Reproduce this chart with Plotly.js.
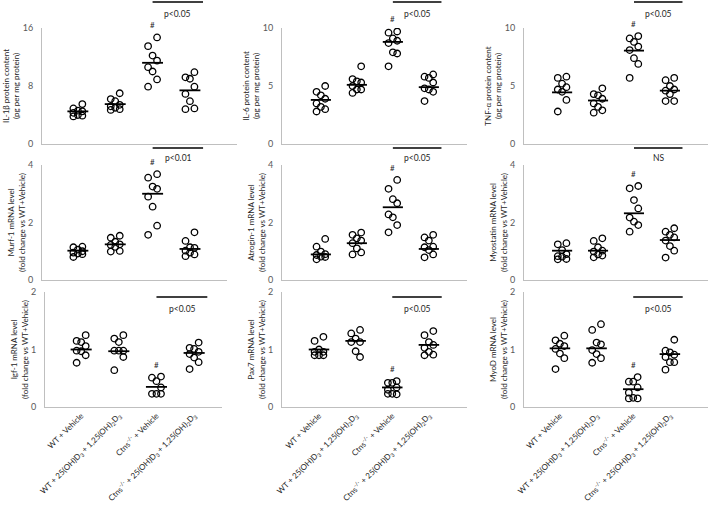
<!DOCTYPE html>
<html>
<head>
<meta charset="utf-8">
<script src="https://cdn.plot.ly/plotly-3.0.1.min.js"></script>
<style>
html, body { margin: 0; padding: 0; background: #fff; }
#plot { width: 709px; height: 508px; }
</style>
</head>
<body>
<div id="plot"></div>
<script>
// group labels (bottom row only)
var groups = [
  'WT + Vehicle',
  'WT + 25(OH)D<sub>3</sub> + 1,25(OH)<sub>2</sub>D<sub>3</sub>',
  'Ctns<sup>-/-</sup> + Vehicle',
  'Ctns<sup>-/-</sup> + 25(OH)D<sub>3</sub> + 1,25(OH)<sub>2</sub>D<sub>3</sub>'
];

// values, one list per group
var il1b = [[5.5, 4.9, 4.6, 4.5, 4.3, 4.0, 3.9, 3.8],
            [7.0, 6.2, 5.9, 5.4, 5.2, 5.0, 4.8, 4.7],
            [14.7, 13.5, 12.2, 11.5, 10.6, 10.0, 8.9, 7.9],
            [9.9, 9.2, 9.0, 7.9, 6.9, 5.9, 4.9, 4.8]];
var il6 = [[5.0, 4.5, 4.2, 3.9, 3.5, 3.2, 3.0, 2.8],
           [6.7, 5.6, 5.4, 5.3, 5.0, 4.7, 4.7, 4.4],
           [9.7, 9.6, 9.1, 8.9, 8.7, 7.9, 7.8, 6.7],
           [6.0, 5.8, 5.7, 5.3, 4.8, 4.7, 4.5, 3.7]];
var tnfa = [[5.8, 5.7, 5.2, 4.9, 4.7, 4.5, 3.8, 2.8],
            [4.8, 4.3, 4.2, 3.9, 3.5, 3.2, 2.9, 2.7],
            [9.3, 9.1, 8.8, 8.4, 8.1, 7.4, 6.9, 5.7],
            [5.7, 5.5, 5.0, 4.7, 4.6, 4.3, 3.7, 3.7]];
var murf1 = [[1.16, 1.14, 1.06, 1.0, 0.95, 0.92, 0.90, 0.80],
             [1.54, 1.47, 1.33, 1.24, 1.22, 1.15, 1.01, 0.99],
             [3.68, 3.56, 3.25, 3.17, 2.90, 2.55, 1.89, 1.57],
             [1.66, 1.36, 1.14, 1.12, 1.02, 0.95, 0.89, 0.83]];
var atrogin1 = [[1.43, 1.16, 0.99, 0.90, 0.87, 0.81, 0.80, 0.72],
                [1.65, 1.57, 1.45, 1.37, 1.28, 1.10, 0.96, 0.89],
                [3.48, 3.17, 2.81, 2.67, 2.28, 2.18, 1.91, 1.66],
                [1.57, 1.48, 1.37, 1.16, 1.14, 1.04, 0.89, 0.79]];
var myostatin = [[1.28, 1.24, 1.04, 0.90, 0.83, 0.81, 0.73, 0.72],
                 [1.45, 1.36, 1.14, 1.02, 0.99, 0.89, 0.85, 0.79],
                 [3.27, 3.19, 2.78, 2.49, 2.17, 2.03, 1.91, 1.68],
                 [1.80, 1.68, 1.57, 1.48, 1.37, 1.18, 1.02, 0.78]];
var igf1 = [[1.25, 1.15, 1.13, 1.06, 0.98, 0.97, 0.90, 0.77],
            [1.25, 1.19, 1.13, 0.98, 0.98, 0.98, 0.87, 0.64],
            [0.53, 0.51, 0.45, 0.34, 0.23, 0.23, 0.23],
            [1.12, 1.03, 1.01, 0.96, 0.92, 0.86, 0.78, 0.66]];
var pax7 = [[1.22, 1.15, 1.00, 0.96, 0.96, 0.90, 0.90, 0.90],
            [1.34, 1.28, 1.19, 1.13, 1.13, 0.97, 0.87],
            [0.45, 0.42, 0.42, 0.34, 0.30, 0.23, 0.22, 0.23],
            [1.32, 1.25, 1.13, 1.08, 1.03, 0.96, 0.91, 0.90]];
var myod = [[1.24, 1.16, 1.10, 1.06, 1.01, 0.93, 0.85, 0.66],
            [1.44, 1.34, 1.12, 1.09, 0.99, 0.92, 0.85, 0.77],
            [0.52, 0.44, 0.44, 0.34, 0.25, 0.16, 0.15, 0.15],
            [1.17, 0.98, 0.95, 0.91, 0.87, 0.78, 0.78, 0.65]];

// group means as drawn
var il1bMean = [4.5, 5.5, 11.2, 7.4];
var il6Mean = [3.8, 5.1, 8.8, 4.9];
var tnfaMean = [4.45, 3.75, 8.05, 4.6];
var murf1Mean = [1.02, 1.24, 3.0, 1.08];
var atrogin1Mean = [0.89, 1.28, 2.53, 1.08];
var myostatinMean = [1.02, 1.02, 2.32, 1.39];
var igf1Mean = [1.0, 0.97, 0.35, 0.94];
var pax7Mean = [1.0, 1.15, 0.34, 1.08];
var myodMean = [1.02, 1.02, 0.31, 0.92];

var titles = [
  'IL-1β protein content<br>(pg per mg protein)',
  'IL-6 protein content<br>(pg per mg protein)',
  'TNF-α protein content<br>(pg per mg protein)',
  'Murf-1 mRNA level<br>(fold change vs WT+Vehicle)',
  'Atrogin-1 mRNA level<br>(fold change vs WT+Vehicle)',
  'Myostatin mRNA level<br>(fold change vs WT+Vehicle)',
  'Igf-1 mRNA level<br>(fold change vs WT+Vehicle)',
  'Pax7 mRNA level<br>(fold change vs WT+Vehicle)',
  'MyoD mRNA level<br>(fold change vs WT+Vehicle)'
];
var yTicks = [[0, 8, 16], [0, 5, 10], [0, 5, 10],
              [0, 2, 4], [0, 2, 4], [0, 2, 4],
              [0, 1, 2], [0, 1, 2], [0, 1, 2]];
var sigText = ['p<0.05', 'p<0.05', 'p<0.05',
               'p<0.01', 'p<0.05', 'NS',
               'p<0.05', 'p<0.05', 'p<0.05'];

var values = [il1b, il6, tnfa, murf1, atrogin1, myostatin, igf1, pax7, myod];
var means = [il1bMean, il6Mean, tnfaMean, murf1Mean, atrogin1Mean, myostatinMean, igf1Mean, pax7Mean, myodMean];

// layout in pixels
var W = 709, H = 508;
var xDom = [[42,237],[282,467],[524,708],[42,227],[282,467],[524,708],[45,222],[282,467],[524,708]];
var xRng = [[-0.96,4.26],[-1.08,4.06],[-1.06,4.06],[-0.96,3.99],[-1.08,4.06],[-1.06,4.06],[-0.96,3.74],[-1.01,4.04],[-0.98,4.04]];
var yDom = [[28,144],[165,280],[292,407]];
var barY = [[2,14],[148,158],[297,309]];
var jitter = [1, -1, 0, 1, -1, 0, 1, -1];

var font = 'Lato, "Open Sans", sans-serif';
var data = [];
var layout = {
  width: W, height: H,
  margin: {l: 0, r: 0, t: 0, b: 0},
  paper_bgcolor: '#fff', plot_bgcolor: '#fff',
  showlegend: false,
  font: {family: font, size: 8, color: '#404040'},
  shapes: [], annotations: []
};

for (var i = 0; i < 9; i++) {
  var n = i === 0 ? '' : String(i + 1);
  var r = Math.floor(i / 3);
  var xa = 'x' + n, ya = 'y' + n;

  for (var g = 0; g < 4; g++) {
    var vs = values[i][g];
    data.push({
      type: 'scatter', mode: 'markers', xaxis: xa, yaxis: ya,
      x: vs.map(function (v, k) { return g + jitter[k] * 0.12; }),
      y: vs,
      marker: {symbol: 'circle-open', size: 6.5, color: '#000', line: {width: 1.3, color: '#000'}},
      hoverinfo: 'y'
    });
    data.push({
      type: 'scatter', mode: 'lines', xaxis: xa, yaxis: ya,
      x: [g - 0.28, g + 0.28], y: [means[i][g], means[i][g]],
      line: {color: '#000', width: 1.8},
      hoverinfo: 'skip'
    });
  }

  layout['xaxis' + n] = {
    domain: [xDom[i][0] / W, xDom[i][1] / W],
    range: xRng[i], anchor: ya,
    showline: true, linecolor: '#bfbfbf', linewidth: 1,
    showgrid: false, zeroline: false, ticks: '',
    tickvals: [0, 1, 2, 3], ticktext: groups,
    showticklabels: r === 2, tickangle: -45,
    tickfont: {family: font, size: 8, color: '#262626'},
    fixedrange: true
  };
  layout['yaxis' + n] = {
    domain: [1 - yDom[r][1] / H, 1 - yDom[r][0] / H],
    range: [0, yTicks[i][2]], anchor: xa,
    showline: true, linecolor: '#bfbfbf', linewidth: 1,
    showgrid: false, zeroline: false, ticks: '',
    tickvals: yTicks[i], ticklabelstandoff: 6,
    tickfont: {family: font, size: 9, color: '#595959'},
    title: {text: titles[i], font: {family: font, size: 8, color: '#262626'}, standoff: 1},
    fixedrange: true
  };

  layout.shapes.push({
    type: 'line', xref: xa, yref: 'paper',
    x0: 2, x1: 3.35, y0: 1 - barY[r][0] / H, y1: 1 - barY[r][0] / H,
    line: {color: '#000', width: 1.5}
  });
  layout.annotations.push({
    xref: xa, yref: 'paper', x: 2.68, y: 1 - barY[r][1] / H,
    xanchor: 'center', yanchor: 'middle',
    text: sigText[i], showarrow: false,
    font: {family: font, size: 8.5, color: '#262626'}
  });
  var top3 = Math.max.apply(null, values[i][2]);
  layout.annotations.push({
    xref: xa, yref: ya, x: 2, y: top3, yshift: 12,
    xanchor: 'center', yanchor: 'middle',
    text: '#', showarrow: false,
    font: {family: font, size: 8, color: '#262626'}
  });
}

Plotly.newPlot('plot', data, layout, {displayModeBar: false, staticPlot: true});
</script>
</body>
</html>
